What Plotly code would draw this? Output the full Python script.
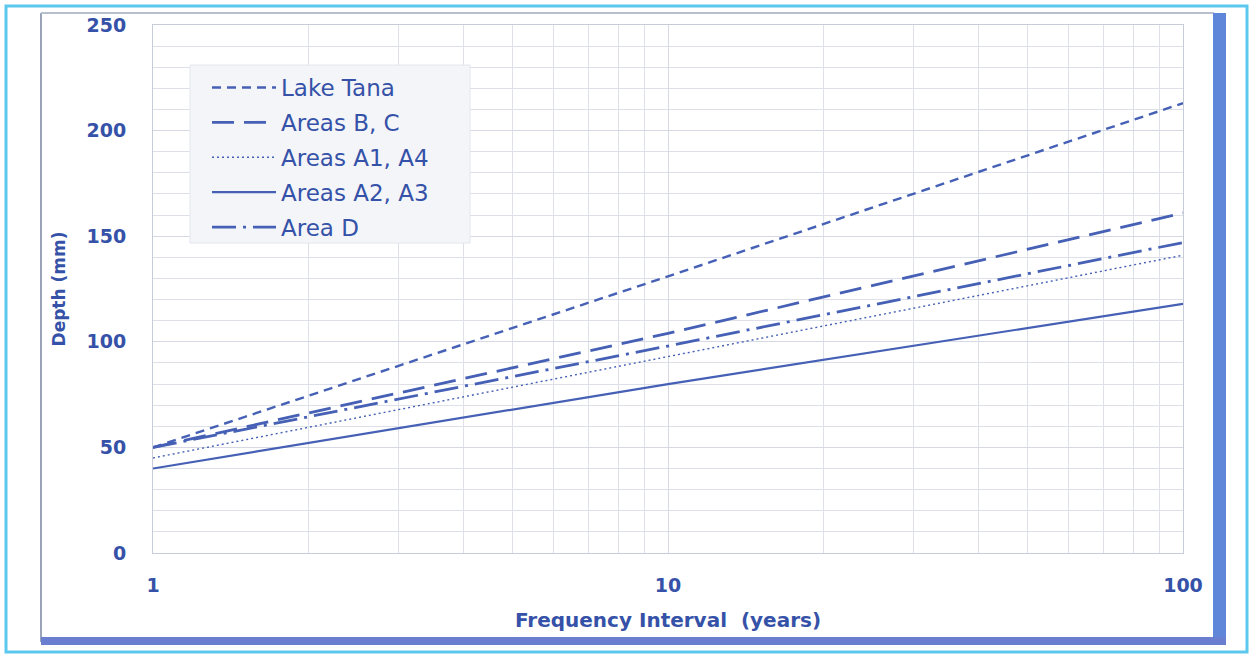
import plotly.graph_objects as go

# Data
freq = [1, 10, 100]
lake_tana = [50, 131, 213]
areas_bc = [50, 104, 161]
areas_a1a4 = [45, 93, 141]
areas_a2a3 = [40, 80, 118]
area_d = [50, 98, 147]

names = ["Lake Tana", "Areas B, C", "Areas A1, A4", "Areas A2, A3", "Area D"]
series = [lake_tana, areas_bc, areas_a1a4, areas_a2a3, area_d]
dashes = ["9px,6px", "22px,10px", "2px,3px", "solid", "24px,7px,3px,7px"]
widths = [2.4, 2.8, 1.4, 2.2, 2.8]
color = "#4560b5"
textc = "#3552a8"

fig = go.Figure()
for i, (n, s, d, w) in enumerate(zip(names, series, dashes, widths)):
    fig.add_trace(go.Scatter(x=freq, y=s, mode="lines", name=n, legendgroup=str(i),
                             line=dict(color=color, width=w, dash=d)))

W, H = 1252, 656
L, R, T, B = 153, 1183, 25, 553
pw, ph = R - L, B - T

def px(x):
    return (x - L) / pw

def py(y):
    return (B - y) / ph

shapes = [
    # outer cyan frame
    dict(type="rect", xref="paper", yref="paper", x0=px(6), x1=px(1247), y0=py(652), y1=py(6),
         line=dict(color="#5cc8ee", width=3), layer="below"),
    # inner frame grey left/top
    dict(type="line", xref="paper", yref="paper", x0=px(41), x1=px(41), y0=py(642), y1=py(13),
         line=dict(color="#9aa3b8", width=2), layer="below"),
    dict(type="line", xref="paper", yref="paper", x0=px(41), x1=px(1214), y0=py(13), y1=py(13),
         line=dict(color="#b8bfd0", width=2), layer="below"),
    # thick blue right/bottom
    dict(type="rect", xref="paper", yref="paper", x0=px(1213), x1=px(1226), y0=py(645), y1=py(13),
         line=dict(width=0), fillcolor="#5f86d8", layer="below"),
    dict(type="rect", xref="paper", yref="paper", x0=px(41), x1=px(1226), y0=py(645), y1=py(637),
         line=dict(width=0), fillcolor="#6a7fd0", layer="below"),
    # legend box
    dict(type="rect", xref="paper", yref="paper", x0=px(190), x1=px(470), y0=py(243), y1=py(65),
         line=dict(color="#e4e6ee", width=1), fillcolor="#f4f5f9", layer="above"),
]

fig.update_layout(
    width=W, height=H,
    margin=dict(l=L, r=W - R, t=T, b=H - B, pad=0),
    paper_bgcolor="white", plot_bgcolor="white",
    shapes=shapes,
    showlegend=True,
    legend=dict(x=px(207), y=py(66), xanchor="left", yanchor="top",
                bgcolor="rgba(0,0,0,0)", borderwidth=0,
                font=dict(family="DejaVu Sans", size=23, color=textc),
                tracegroupgap=2, itemwidth=64),
    xaxis=dict(type="log", range=[0, 2], tickvals=[1, 10, 100], ticktext=["1", "10", "100"],
               showgrid=True, gridcolor="#d6d9e3", gridwidth=1,
               minor=dict(dtick="D1", showgrid=True, gridcolor="#dde0e8", gridwidth=1, ticks=""),
               ticks="outside", ticklen=15, tickcolor="rgba(0,0,0,0)",
               tickfont=dict(family="DejaVu Sans", size=19, color=textc, weight="bold"),
               showline=True, linecolor="#c8ccd8", mirror=True, zeroline=False,
               title=dict(text="Frequency Interval  (years)", standoff=18,
                          font=dict(family="DejaVu Sans", size=20, color=textc, weight="bold"))),
    yaxis=dict(range=[0, 250], tickvals=[0, 50, 100, 150, 200, 250],
               showgrid=True, gridcolor="#d6d9e3", gridwidth=1,
               minor=dict(dtick=10, showgrid=True, gridcolor="#dde0e8", gridwidth=1, ticks=""),
               ticks="outside", ticklen=22, tickcolor="rgba(0,0,0,0)",
               tickfont=dict(family="DejaVu Sans", size=19, color=textc, weight="bold"),
               showline=True, linecolor="#c8ccd8", mirror=True, zeroline=False,
               title=dict(text="Depth (mm)", standoff=16,
                          font=dict(family="DejaVu Sans", size=17, color=textc, weight="bold"))),
)

fig.write_html("out.html", config={"displayModeBar": False},
               post_script="document.body.style.margin='0';")
